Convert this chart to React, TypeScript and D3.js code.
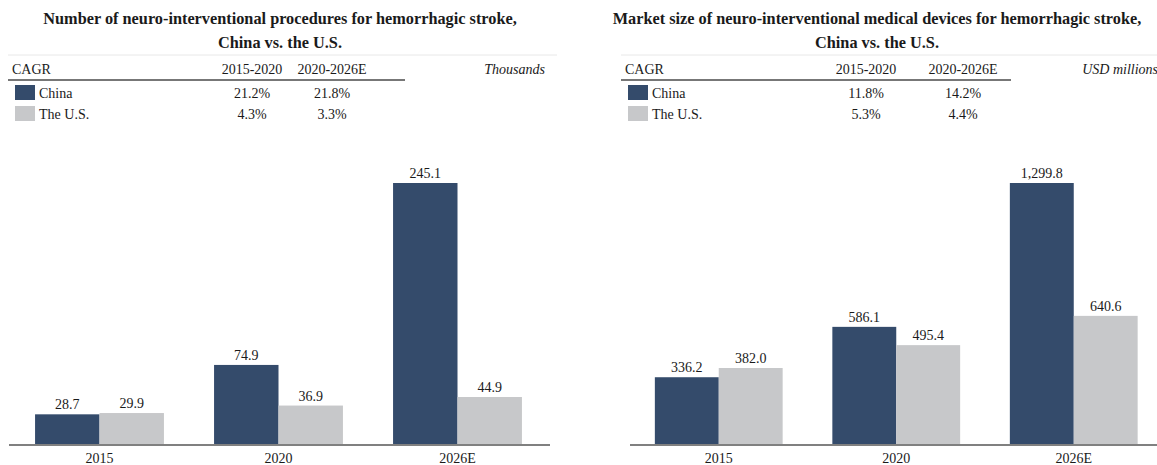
import React from 'react';
import * as d3 from 'd3';

// data
const years = ['2015', '2020', '2026E'];
const seriesNames = ['China', 'The U.S.'];
const periods = ['2015-2020', '2020-2026E'];

const procChina = [28.7, 74.9, 245.1];
const procUS = [29.9, 36.9, 44.9];
const procCagrChina = ['21.2%', '21.8%'];
const procCagrUS = ['4.3%', '3.3%'];

const marketChina = [336.2, 586.1, 1299.8];
const marketUS = [382.0, 495.4, 640.6];
const marketCagrChina = ['11.8%', '14.2%'];
const marketCagrUS = ['5.3%', '4.4%'];

const colors = ['#344b6b', '#c7c8ca'];
const FONT = '"Liberation Serif", "Times New Roman", serif';

type PanelProps = {
  left: number;
  width: number;
  title: [string, string];
  unit: string;
  unitX: number;
  china: number[];
  us: number[];
  cagrChina: string[];
  cagrUS: string[];
  fmt: (v: number) => string;
  bandRange: [number, number];
  axisRange: [number, number];
  ruleEnd: number;
  colX: [number, number];
  titleX: number;
};

function Panel(p: PanelProps) {
  const baseY = 445;
  const topY = 183;
  const x0 = d3.scaleBand().domain(years).range(p.bandRange).paddingInner(0.28).paddingOuter(0.14);
  const x1 = d3.scaleBand().domain(seriesNames).range([0, x0.bandwidth()]);
  const maxV = d3.max([...p.china, ...p.us]) as number;
  const y = d3.scaleLinear().domain([0, maxV]).range([baseY, topY]);
  const values = [p.china, p.us];
  const cagr = [p.cagrChina, p.cagrUS];

  return (
    <g fontFamily={FONT} fill="#1a1a1a">
      <text x={p.titleX} y={24} textAnchor="middle" fontWeight="bold" fontSize={16.3}>{p.title[0]}</text>
      <text x={p.titleX} y={48} textAnchor="middle" fontWeight="bold" fontSize={16.3}>{p.title[1]}</text>
      <line x1={p.left} x2={p.left + p.width} y1={55} y2={55} stroke="#e8e8e8" strokeWidth={1} />

      <text x={p.left + 4} y={74} fontSize={14}>CAGR</text>
      {periods.map((per, i) => (
        <text key={per} x={p.colX[i]} y={74} fontSize={14} textAnchor="middle">{per}</text>
      ))}
      <text x={p.unitX} y={74} fontSize={14} fontStyle="italic" textAnchor="end">{p.unit}</text>
      <line x1={p.left} x2={p.ruleEnd} y1={80} y2={80} stroke="#777" strokeWidth={2} />

      {seriesNames.map((s, i) => (
        <g key={s}>
          <rect x={p.left + 7} y={85 + i * 21} width={20} height={15} fill={colors[i]} />
          <text x={p.left + 31} y={98 + i * 21} fontSize={14}>{s}</text>
          {cagr[i].map((c, j) => (
            <text key={j} x={p.colX[j]} y={98 + i * 21} fontSize={14} textAnchor="middle">{c}</text>
          ))}
        </g>
      ))}

      {years.map((yr, gi) => (
        <g key={yr} transform={`translate(${x0(yr)},0)`}>
          {seriesNames.map((s, si) => {
            const v = values[si][gi];
            const bx = x1(s) as number;
            return (
              <g key={s}>
                <rect x={bx} y={y(v)} width={x1.bandwidth()} height={baseY - y(v)} fill={colors[si]} />
                <text x={bx + x1.bandwidth() / 2} y={y(v) - 5} fontSize={14} textAnchor="middle">{p.fmt(v)}</text>
              </g>
            );
          })}
          <text x={x0.bandwidth() / 2} y={463} fontSize={14} textAnchor="middle">{yr}</text>
        </g>
      ))}
      <line x1={p.axisRange[0]} x2={p.axisRange[1]} y1={baseY} y2={baseY} stroke="#808080" strokeWidth={2} />
    </g>
  );
}

export default function App() {
  const f1 = d3.format('.1f');
  const f2 = d3.format(',.1f');
  return (
    <svg width={1157} height={465} style={{ position: 'absolute', left: 0, top: 0 }}>
      <rect width={1157} height={465} fill="#fff" />
      <Panel
        left={8}
        width={549}
        title={['Number of neuro-interventional procedures for hemorrhagic stroke,', 'China vs. the U.S.']}
        titleX={280}
        unit="Thousands"
        unitX={545}
        china={procChina}
        us={procUS}
        cagrChina={procCagrChina}
        cagrUS={procCagrUS}
        fmt={f1}
        bandRange={[10, 547]}
        axisRange={[9, 550]}
        ruleEnd={405}
        colX={[252, 332]}
      />
      <Panel
        left={621}
        width={536}
        title={['Market size of neuro-interventional medical devices for hemorrhagic stroke,', 'China vs. the U.S.']}
        titleX={877}
        unit="USD millions"
        unitX={1158}
        china={marketChina}
        us={marketUS}
        cagrChina={marketCagrChina}
        cagrUS={marketCagrUS}
        fmt={f2}
        bandRange={[630, 1162.5]}
        axisRange={[630, 1157]}
        ruleEnd={1011}
        colX={[866, 963]}
      />
    </svg>
  );
}
